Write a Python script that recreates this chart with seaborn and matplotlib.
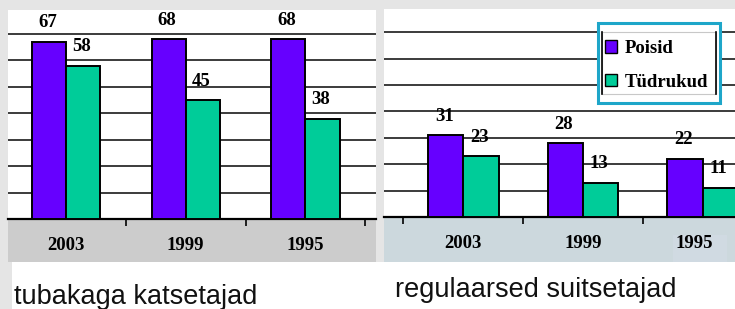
import pandas as pd
import matplotlib.pyplot as plt
import seaborn as sns
from matplotlib.patches import Rectangle, Patch
from matplotlib.lines import Line2D

# andmed
aastad = ['2003', '1999', '1995']
sugu = ['Poisid', 'Tüdrukud']
katsetajad_poisid = [67, 68, 68]
katsetajad_tudrukud = [58, 45, 38]
regulaarsed_poisid = [31, 28, 22]
regulaarsed_tudrukud = [23, 13, 11]
pealkirjad = ['tubakaga katsetajad', 'regulaarsed suitsetajad']

lilla = '#6600ff'
roheline = '#00cc99'

W, H = 735, 309


def fx(x):
    return x / W


def fy(y):
    return 1 - y / H


def tabel(poisid, tudrukud):
    return pd.DataFrame({
        'aasta': aastad * 2,
        'sugu': [sugu[0]] * 3 + [sugu[1]] * 3,
        'protsent': poisid + tudrukud,
    })


fig = plt.figure(figsize=(W / 100, H / 100), dpi=100, facecolor='#e5e5e5')

# taustad (valge alumine riba, hallid x-telje ribad)
fig.add_artist(Rectangle((fx(12), 0), 1 - fx(12), (H - 262) / H, transform=fig.transFigure,
                         facecolor='white', edgecolor='none', zorder=-2))
fig.add_artist(Rectangle((fx(8), fy(262)), (376 - 8) / W, (262 - 219) / H, transform=fig.transFigure,
                         facecolor='#cccccc', edgecolor='none', zorder=-2))
fig.add_artist(Rectangle((fx(384), fy(262)), (735 - 384) / W, (262 - 217) / H, transform=fig.transFigure,
                         facecolor='#ccd8dd', edgecolor='none', zorder=-2))
fig.add_artist(Rectangle((fx(673), fy(262)), (727 - 673) / W, (262 - 235) / H, transform=fig.transFigure,
                         facecolor='#d0dae2', edgecolor='none', zorder=-1))

ax1 = fig.add_axes([fx(8), fy(219), (376 - 8) / W, (219 - 10) / H])
ax2 = fig.add_axes([fx(384), fy(217), (735 - 384) / W, (217 - 9) / H])

seaded = [
    (ax1, tabel(katsetajad_poisid, katsetajad_tudrukud), (-0.4845, 2.589), 79.1, [0.5, 1.5, 2.5], 0.57),
    (ax2, tabel(regulaarsed_poisid, regulaarsed_tudrukud), (-0.6625, 2.27), 78.8, [-0.5, 0.5, 1.5], 0.59),
]

serif = {'family': 'Liberation Serif', 'weight': 'bold', 'size': 13.5}

for ax, df, xlim, ymax, eraldajad, laius in seaded:
    sns.barplot(data=df, x='aasta', y='protsent', hue='sugu', palette=[lilla, roheline],
                saturation=1, width=laius, edgecolor='black', linewidth=1.4,
                legend=False, ax=ax, zorder=3)
    ax.set_facecolor('white')
    ax.set_xlim(*xlim)
    ax.set_ylim(0, ymax)
    ax.set_yticks(range(10, 80, 10))
    ax.yaxis.grid(True, color='#1a1a1a', linewidth=1.2)
    ax.set_axisbelow(True)
    ax.tick_params(axis='y', length=0, labelleft=False)
    ax.set_xticks(eraldajad)
    ax.set_xticklabels([])
    ax.tick_params(axis='x', length=5, width=1.2, direction='out', color='black')
    ax.set_xlabel('')
    ax.set_ylabel('')
    for s in ['left', 'right', 'top']:
        ax.spines[s].set_visible(False)
    ax.spines['bottom'].set_linewidth(1.6)
    ax.spines['bottom'].set_color('black')

    # väärtused tulpade kohal
    for konteiner in ax.containers:
        for tulp in konteiner:
            ax.annotate(f'{tulp.get_height():.0f}',
                        (tulp.get_x() + tulp.get_width() / 2, tulp.get_height()),
                        xytext=(-1.5, 19), textcoords='offset pixels',
                        ha='center', va='center', annotation_clip=False, **serif)

# aastad x-teljel
nihked = [[0, 0, 0], [0, 0, -8]]
for ax, nihe in zip([ax1, ax2], nihked):
    for i, a in enumerate(aastad):
        ax.annotate(a, (i, 0), xycoords=('data', 'axes fraction'),
                    xytext=(nihe[i], -27), textcoords='offset pixels',
                    ha='center', va='center', annotation_clip=False, **serif)

# legend
ax2.add_patch(Rectangle((fx(598), fy(103)), (720 - 598) / W, (103 - 23) / H, transform=fig.transFigure,
                        facecolor='white', edgecolor='#1ea6c9', linewidth=2.2, zorder=4, clip_on=False))
ax2.add_patch(Rectangle((fx(602), fy(94)), (716 - 602) / W, (94 - 32) / H, transform=fig.transFigure,
                        facecolor='none', edgecolor='#c8c8c8', linewidth=0.8, zorder=4, clip_on=False))
for x in [602, 716]:
    ax2.add_line(Line2D([fx(x), fx(x)], [fy(94), fy(32)], transform=fig.transFigure,
                        color='black', linewidth=1.2, zorder=4, clip_on=False))
kasted = [Patch(facecolor=lilla, edgecolor='black', linewidth=1.0),
          Patch(facecolor=roheline, edgecolor='black', linewidth=1.0)]
ax2.legend(kasted, sugu, loc='upper left', bbox_to_anchor=(fx(605), fy(40)),
           bbox_transform=fig.transFigure, frameon=False, prop=serif,
           handlelength=0.65, handleheight=0.68, handletextpad=0.4, labelspacing=0.88,
           borderpad=0, borderaxespad=0)

# alapealkirjad
fig.text(fx(14), fy(303.5), pealkirjad[0], family='Liberation Sans', fontsize=19.5,
         va='baseline', ha='left', color='#111111')
fig.text(fx(395), fy(297), pealkirjad[1], family='Liberation Sans', fontsize=19.5,
         va='baseline', ha='left', color='#111111')

plt.savefig('out.png', dpi=100, facecolor=fig.get_facecolor())
